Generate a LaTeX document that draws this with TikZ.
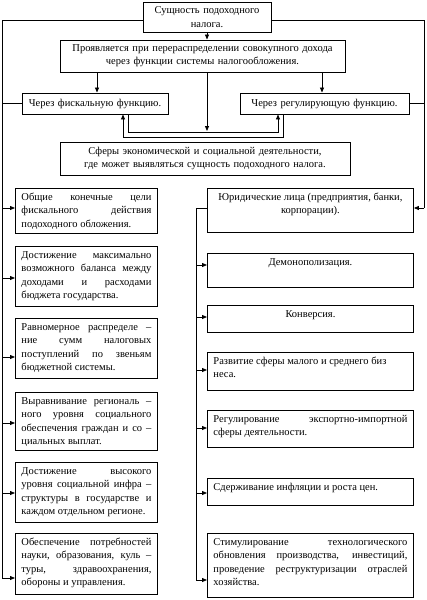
\documentclass[tikz,border=0pt]{standalone}
\usepackage{fontspec}
\setmainfont{Liberation Serif}
\usetikzlibrary{arrows.meta}
\newcommand{\tbx}[3]{\parbox[c][#2][t]{#1}{\strut #3}}
\tikzset{
  fnt/.style={font=\fontsize{10.5}{13.2}\selectfont},
  cbox/.style={draw, line width=0.9pt, fnt, align=center, inner xsep=5pt, inner ysep=0pt, anchor=center},
  bx/.style={draw, line width=0.9pt, fnt, inner xsep=6pt, inner ysep=3pt, anchor=north west},
  ln/.style={line width=0.75pt},
  arr/.style={ln, -{Triangle[length=5pt,width=4pt]}},
}
\begin{document}
\begin{tikzpicture}[x=1pt,y=-1pt]
\useasboundingbox (0,0) rectangle (426,600);
% top part
\node[cbox, minimum width=128pt, minimum height=30pt, text width=118pt] (T) at (207,17) {Сущность подоходного\\налога.};
\node[cbox, minimum width=285pt, minimum height=32pt, text width=275pt] (P) at (202.5,56) {Проявляется при перераспределении совокупного дохода\\через функции системы налогообложения.};
\node[cbox, minimum width=146pt, minimum height=21pt, text width=136pt] (F) at (95,103.5) {Через фискальную функцию.};
\node[cbox, minimum width=169pt, minimum height=21pt, text width=159pt] (R) at (324.5,103.5) {Через регулирующую функцию.};
\node[cbox, minimum width=290pt, minimum height=33pt, text width=280pt] (S) at (205,158.5) {Сферы экономической и социальной деятельности,\\где может выявляться сущность подоходного налога.};
% left boxes
\node[bx] (L1) at (15,188) {\tbx{130pt}{39pt}{Общие конечные цели\linebreak фискального действия\linebreak подоходного обложения.}};
\node[bx] (L2) at (15,246) {\tbx{130pt}{54pt}{Достижение максимально\linebreak возможного баланса между\linebreak доходами и расходами\linebreak бюджета государства.}};
\node[bx] (L3) at (15,318) {\tbx{130pt}{54pt}{Равномерное распределе –\linebreak ние сумм налоговых\linebreak поступлений по звеньям\linebreak бюджетной системы.}};
\node[bx] (L4) at (15,392) {\tbx{130pt}{52pt}{Выравнивание региональ –\linebreak ного уровня социального\linebreak обеспечения граждан и со –\linebreak циальных выплат.}};
\node[bx] (L5) at (15,462) {\tbx{130pt}{54pt}{Достижение высокого\linebreak уровня социальной инфра –\linebreak структуры в государстве и\linebreak каждом отдельном регионе.}};
\node[bx] (L6) at (15,533) {\tbx{130pt}{55pt}{Обеспечение потребностей\linebreak науки, образования, куль –\linebreak туры, здравоохранения,\linebreak обороны и управления.}};
% right boxes
\node[bx] (R1) at (207,188) {\tbx{194pt}{38pt}{\centering Юридические лица (предприятия, банки,\\корпорации).}};
\node[bx] (R2) at (207,253) {\tbx{194pt}{28pt}{\centering\vspace*{2pt}Демонополизация.}};
\node[bx] (R3) at (207,305) {\tbx{194pt}{21pt}{\centering Конверсия.}};
\node[bx] (R4) at (207,352) {\tbx{194pt}{32pt}{\raggedright Развитие сферы малого и среднего биз\\неса.}};
\node[bx] (R5) at (207,410) {\tbx{194pt}{31pt}{Регулирование экспортно-импортной\linebreak сферы деятельности.}};
\node[bx] (R6) at (207,478) {\tbx{194pt}{21pt}{\raggedright Сдерживание инфляции и роста цен.}};
\node[bx] (R7) at (207,533) {\tbx{194pt}{58pt}{Стимулирование технологического\linebreak обновления производства, инвестиций,\linebreak проведение реструктуризации отраслей\linebreak хозяйства.}};
% connectors top
\draw[arr] (T.south) -- (T.south |- P.north);
\draw[arr] (P.south -| 97,0) -- (F.north -| 97,0);
\draw[arr] (P.south -| 322,0) -- (R.north -| 322,0);
\draw[arr] (P.south -| 207,0) -- (207,131);
\draw[arr] (F.south -| 128,0) -- (128,132) -- (278,132) -- (R.south -| 278,0);
\draw[arr] (R.south -| 283,0) -- (283,137) -- (123,137) -- (F.south -| 123,0);
% left bus
\draw[ln] (T.west |- 0,20) -| (2,578);
\draw[ln] (F.west) -- (F.west -| 2,0);
\draw[arr] (2,208) -- (L1.west |- 0,208);
\draw[arr] (2,278) -- (L2.west |- 0,278);
\draw[arr] (2,357) -- (L3.west |- 0,357);
\draw[arr] (2,423) -- (L4.west |- 0,423);
\draw[arr] (2,493) -- (L5.west |- 0,493);
\draw[arr] (2,578) -- (L6.west |- 0,578);
% right side
\draw[ln] (T.east |- 0,20) -| (424,208);
\draw[ln] (R.east) -- (R.east -| 424,0);
\draw[arr] (424,208) -- (R1.east |- 0,208);
\draw[ln] (R1.west |- 0,208) -| (196,580);
\draw[arr] (196,265) -- (R2.west |- 0,265);
\draw[arr] (196,317) -- (R3.west |- 0,317);
\draw[arr] (196,370) -- (R4.west |- 0,370);
\draw[arr] (196,428) -- (R5.west |- 0,428);
\draw[arr] (196,493) -- (R6.west |- 0,493);
\draw[arr] (196,580) -- (R7.west |- 0,580);
\end{tikzpicture}
\end{document}
